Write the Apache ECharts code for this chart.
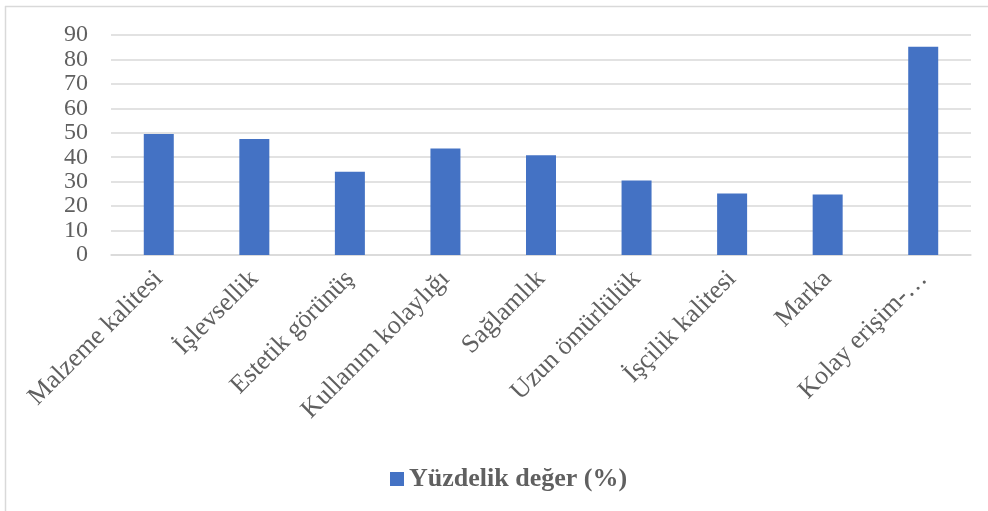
<!DOCTYPE html>
<html>
<head>
<meta charset="utf-8">
<script src="https://cdn.jsdelivr.net/npm/echarts@6/dist/echarts.min.js"></script>
<style>
  html, body { margin: 0; padding: 0; background: #ffffff; }
  #chart { width: 988px; height: 511px; }
</style>
</head>
<body>
<div id="chart"></div>
<script>
// Criteria and their percentage shares
const categories = [
  'Malzeme kalitesi', 'İşlevsellik', 'Estetik görünüş', 'Kullanım kolaylığı',
  'Sağlamlık', 'Uzun ömürlülük', 'İşçilik kalitesi', 'Marka', 'Kolay erişim-…'
];
const values = [49.5, 47.5, 34.1, 43.6, 40.8, 30.5, 25.2, 24.8, 85.2];
const seriesName = 'Yüzdelik değer (%)';
const yMin = 0, yMax = 90, yStep = 10;

const serif = '"Liberation Serif", "DejaVu Serif", serif';
const textColor = '#606060';

const chart = echarts.init(document.getElementById('chart'), null, { renderer: 'canvas' });
chart.setOption({
  backgroundColor: '#ffffff',
  animation: false,
  graphic: [
    // outer frame (top and left edges)
    { type: 'line', shape: { x1: 5, y1: 6.5, x2: 988, y2: 6.5 }, style: { stroke: '#d9d9d9', lineWidth: 1.5 } },
    { type: 'line', shape: { x1: 5.5, y1: 6, x2: 5.5, y2: 511 }, style: { stroke: '#d9d9d9', lineWidth: 1.5 } }
  ],
  grid: { left: 111, right: 17, top: 35, bottom: 256, containLabel: false },
  legend: {
    data: [seriesName],
    left: 385,
    top: 461,
    itemWidth: 14,
    itemHeight: 14,
    itemGap: 5,
    icon: 'rect',
    textStyle: { fontFamily: serif, fontSize: 26, fontWeight: 'bold', color: textColor }
  },
  xAxis: {
    type: 'category',
    data: categories,
    axisLine: { show: true, lineStyle: { color: '#d9d9d9', width: 1.5 } },
    axisTick: { show: false },
    axisLabel: {
      interval: 0,
      rotate: 45,
      margin: 20,
      fontFamily: serif,
      fontSize: 26,
      color: textColor
    }
  },
  yAxis: {
    type: 'value',
    min: yMin,
    max: yMax,
    interval: yStep,
    axisLine: { show: false },
    axisTick: { show: false },
    splitLine: { lineStyle: { color: '#d9d9d9', width: 1.5 } },
    axisLabel: {
      margin: 23,
      showMinLabel: true,
      showMaxLabel: true,
      fontFamily: serif,
      fontSize: 24,
      color: textColor
    }
  },
  series: [{
    name: seriesName,
    type: 'bar',
    data: values,
    barWidth: 30,
    itemStyle: { color: '#4472c4' }
  }]
});
</script>
</body>
</html>
